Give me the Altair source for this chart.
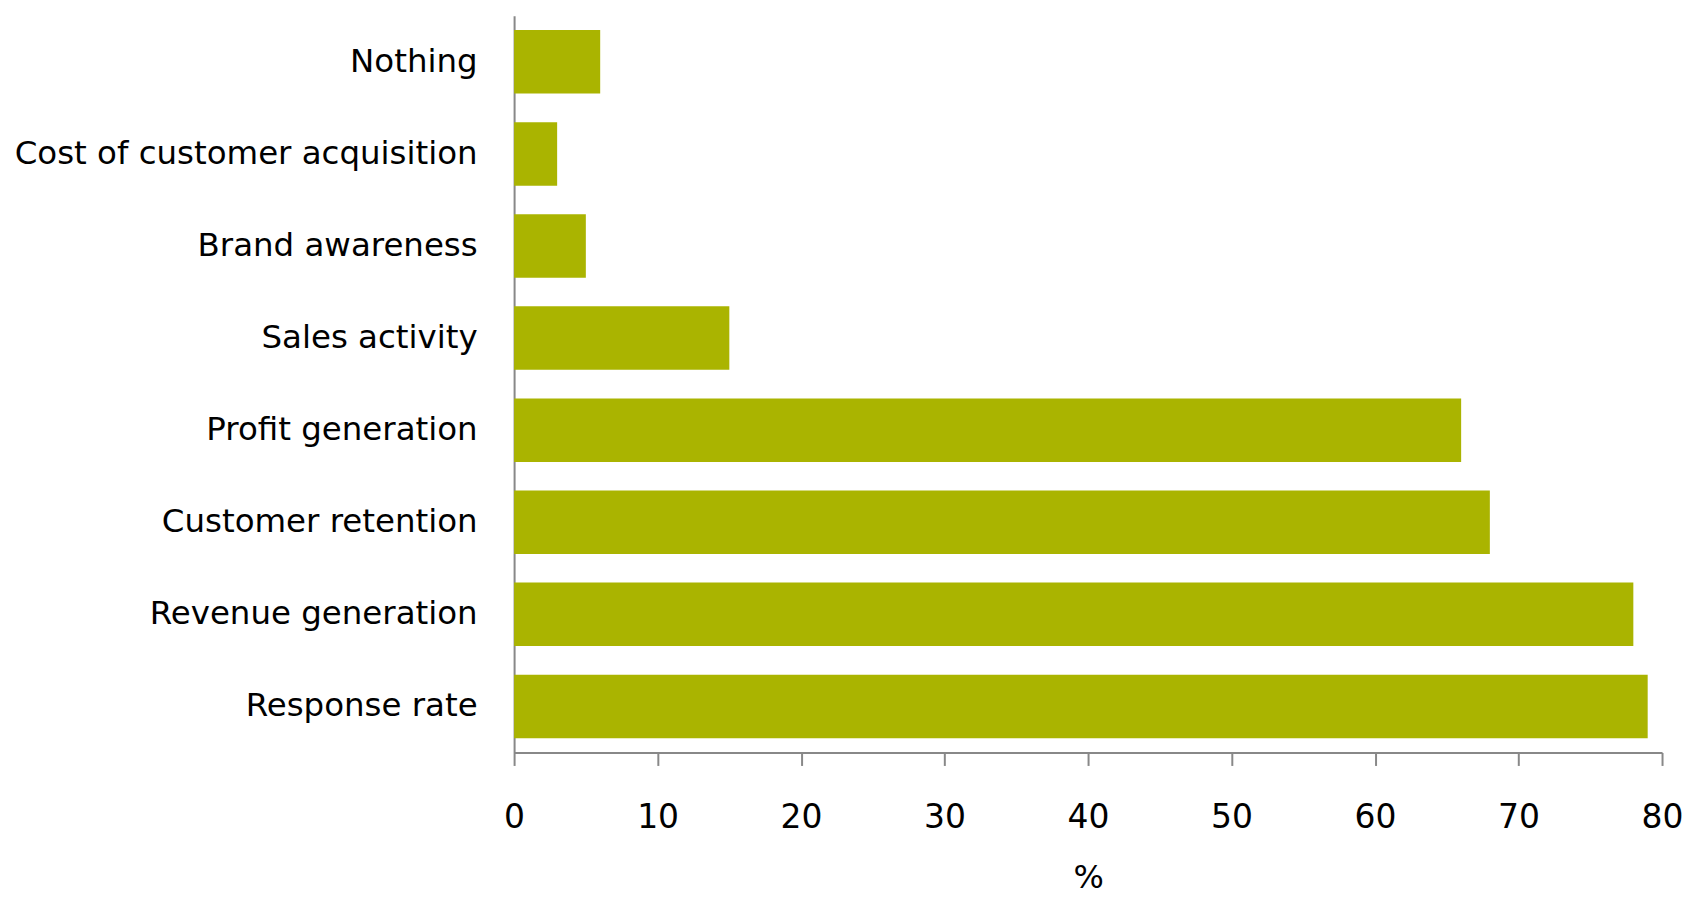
import altair as alt
import pandas as pd

categories = ["Nothing", "Cost of customer acquisition", "Brand awareness", "Sales activity",
              "Profit generation", "Customer retention", "Revenue generation", "Response rate"]
values = [6, 3, 5, 15, 66, 68, 78, 79]
x_ticks = [0, 10, 20, 30, 40, 50, 60, 70, 80]

df = pd.DataFrame({"category": categories, "value": values})

FONT = "DejaVu Sans"

chart = alt.Chart(df).mark_bar(color="#aab400").encode(
    x=alt.X("value:Q", title="%",
            scale=alt.Scale(domain=[0, 80], nice=False),
            axis=alt.Axis(values=x_ticks, grid=False, domainColor="#888888", domainWidth=2,
                          tickColor="#888888", tickWidth=2, tickSize=13, labelFlush=False,
                          labelFont=FONT, labelFontSize=33, labelColor="#000000",
                          labelPadding=36, titleFont=FONT, titleFontSize=32,
                          titleFontWeight="normal", titleColor="#000000", titlePadding=28)),
    y=alt.Y("category:N", sort=categories, title=None,
            scale=alt.Scale(paddingInner=0.31, paddingOuter=0.155),
            axis=alt.Axis(ticks=False, domainColor="#888888", domainWidth=2,
                          labelFont=FONT, labelFontSize=32.5, labelColor="#000000",
                          labelPadding=37, labelLimit=0)),
).properties(
    width=1150, height=738,
    autosize=alt.AutoSizeParams(type="none"),
    padding={"left": 507, "top": 7, "right": 20, "bottom": 145},
).configure_view(stroke=None)

chart.save("out.html", embed_options={"renderer": "svg", "actions": False})
